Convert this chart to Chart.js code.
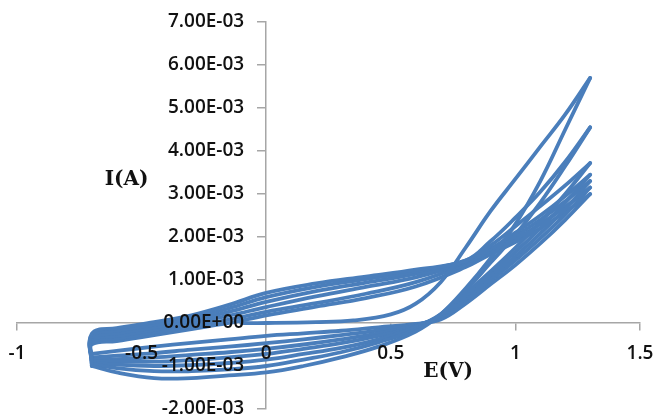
<!DOCTYPE html>
<html>
<head>
<meta charset="utf-8">
<script src="https://cdn.jsdelivr.net/npm/chart.js@4.4.1/dist/chart.umd.min.js"></script>
<style>
  html, body { margin: 0; padding: 0; background: #fff; }
  #wrap { width: 656px; height: 419px; }
</style>
</head>
<body>
<div id="wrap"><canvas id="cv"></canvas></div>
<script>
"use strict";

// potentials (V) for each branch
const firstE = [-0.1, 0, 0.2, 0.35, 0.5, 0.6, 0.7, 0.8, 0.9, 1.0, 1.1, 1.2, 1.3];
const fwdE = [-0.7, -0.6, -0.45, -0.3, -0.15, 0, 0.2, 0.4, 0.6, 0.8, 0.9, 1.0, 1.1, 1.2, 1.3];
const revE = [1.3, 1.2, 1.1, 1.0, 0.9, 0.8, 0.7, 0.6, 0.45, 0.3, 0.15, 0, -0.15, -0.3, -0.45, -0.6, -0.7];

// currents (mA), first sweep starts near open circuit
const firstI = [0, 0, 0.02, 0.06, 0.2, 0.45, 0.95, 1.75, 2.6, 3.35, 4.1, 4.85, 5.7];

// anodic sweeps, cycles 2..7
const fwdI = [
    [-0.25, -0.12, 0.02, 0.18, 0.42, 0.70, 0.92, 1.08, 1.24, 1.45, 1.9, 2.45, 3.05, 3.75, 4.55],
    [-0.3, -0.18, -0.04, 0.12, 0.34, 0.60, 0.84, 1.02, 1.2, 1.45, 1.8, 2.25, 2.72, 3.2, 3.72],
    [-0.35, -0.24, -0.1, 0.06, 0.26, 0.49, 0.74, 0.94, 1.14, 1.42, 1.72, 2.1, 2.5, 2.95, 3.45],
    [-0.4, -0.3, -0.16, 0.0, 0.17, 0.37, 0.62, 0.84, 1.06, 1.4, 1.68, 2.02, 2.4, 2.83, 3.3],
    [-0.45, -0.36, -0.22, -0.07, 0.08, 0.26, 0.46, 0.68, 0.95, 1.36, 1.64, 1.95, 2.3, 2.7, 3.15],
    [-0.5, -0.42, -0.28, -0.14, 0.0, 0.18, 0.38, 0.58, 0.85, 1.3, 1.6, 1.88, 2.2, 2.58, 3.0]
];

// cathodic sweeps, cycles 1..7
const revI = [
    [5.7, 4.5, 3.3, 2.3, 1.5, 0.8, 0.2, -0.2, -0.55, -0.8, -1.0, -1.15, -1.22, -1.28, -1.28, -1.15, -1.0],
    [4.55, 3.65, 2.8, 2.05, 1.4, 0.75, 0.2, -0.15, -0.45, -0.68, -0.85, -1.0, -1.08, -1.12, -1.12, -1.05, -0.95],
    [3.72, 3.0, 2.35, 1.75, 1.2, 0.68, 0.2, -0.1, -0.38, -0.58, -0.72, -0.85, -0.93, -0.98, -1.0, -0.97, -0.92],
    [3.45, 2.8, 2.2, 1.65, 1.12, 0.62, 0.18, -0.08, -0.3, -0.47, -0.6, -0.72, -0.8, -0.86, -0.9, -0.9, -0.88],
    [3.3, 2.65, 2.08, 1.55, 1.05, 0.56, 0.15, -0.06, -0.24, -0.38, -0.5, -0.6, -0.68, -0.74, -0.8, -0.84, -0.85],
    [3.15, 2.52, 1.97, 1.46, 0.98, 0.5, 0.12, -0.04, -0.17, -0.28, -0.38, -0.47, -0.55, -0.62, -0.7, -0.76, -0.8],
    [3.0, 2.4, 1.85, 1.35, 0.9, 0.45, 0.08, -0.02, -0.1, -0.18, -0.24, -0.3, -0.38, -0.46, -0.55, -0.65, -0.72]
];

const lineColor = '#4a7ebb';
const axisColor = '#a6a6a6';

function toPoints(xs, ys) {
    return xs.map(function (x, i) { return { x: x, y: ys[i] / 1000 }; });
}

function branch(points) {
    return {
        data: points,
        borderColor: lineColor,
        borderWidth: 3.8,
        pointRadius: 0,
        tension: 0.4,
        borderCapStyle: 'round',
        borderJoinStyle: 'round',
        fill: false
    };
}

let datasets = [branch(toPoints(firstE, firstI))];
for (let k = 0; k < revI.length; k++) {
    datasets.push(branch(toPoints(revE, revI[k])));
    if (k < fwdI.length) {
        // the sweep turns at the left vertex, so it starts where the previous one ended
        let pts = toPoints(fwdE, fwdI[k]);
        pts.unshift({ x: revE[revE.length - 1], y: revI[k][revI[k].length - 1] / 1000 });
        datasets.push(branch(pts));
    }
}

function sci(v) {
    if (Math.abs(v) < 1e-12) return '0.00E+00';
    let parts = v.toExponential(2).split('e');
    let n = parseInt(parts[1], 10);
    return parts[0] + 'E' + (n < 0 ? '-' : '+') + String(Math.abs(n)).padStart(2, '0');
}

// tick labels drawn by hand: chart.js ignores the padding for axes placed at a value
const tickLabels = {
    id: 'tickLabels',
    afterDatasetsDraw: function (chart) {
        let ctx = chart.ctx;
        let xs = chart.scales.x;
        let ys = chart.scales.y;
        let axisX = xs.getPixelForValue(0);
        let axisY = ys.getPixelForValue(0);
        ctx.save();
        ctx.fillStyle = '#111';
        ctx.font = "600 19px 'Open Sans', sans-serif";
        ctx.textBaseline = 'middle';
        ctx.textAlign = 'right';
        ys.ticks.forEach(function (t) {
            ctx.fillText(sci(t.value), axisX - 22, ys.getPixelForValue(t.value));
        });
        ctx.textAlign = 'center';
        xs.ticks.forEach(function (t) {
            ctx.fillText(String(t.value), xs.getPixelForValue(t.value), axisY + 31);
        });

        ctx.fillStyle = '#111';
        ctx.font = "bold 20px 'DejaVu Serif', serif";
        ctx.fillText('I(A)', xs.getPixelForValue(-0.56), ys.getPixelForValue(0.00333));
        ctx.fillText('E(V)', xs.getPixelForValue(0.73), ys.getPixelForValue(-0.00114));
        ctx.restore();
    }
};

new Chart(document.getElementById('cv'), {
    type: 'scatter',
    data: { datasets: datasets },
    options: {
        responsive: true,
        maintainAspectRatio: false,
        animation: false,
        showLine: true,
        layout: { padding: { left: 17, top: 22, right: 16, bottom: 10 } },
        plugins: { legend: { display: false }, tooltip: { enabled: false } },
        scales: {
            x: {
                type: 'linear',
                position: { y: 0 },
                min: -1,
                max: 1.5,
                afterFit: function (s) { s.height = 0; },
                border: { color: axisColor, width: 1.5 },
                grid: { drawOnChartArea: false, drawTicks: true, tickLength: 7, color: axisColor, lineWidth: 1.5 },
                ticks: { stepSize: 0.5, display: false }
            },
            y: {
                type: 'linear',
                position: { x: 0 },
                min: -0.002,
                max: 0.007,
                afterFit: function (s) { s.width = 0; },
                border: { color: axisColor, width: 1.5 },
                grid: { drawOnChartArea: false, drawTicks: true, tickLength: 8, color: axisColor, lineWidth: 1.5 },
                ticks: { stepSize: 0.001, display: false }
            }
        }
    },
    plugins: [tickLabels]
});
</script>
</body>
</html>
